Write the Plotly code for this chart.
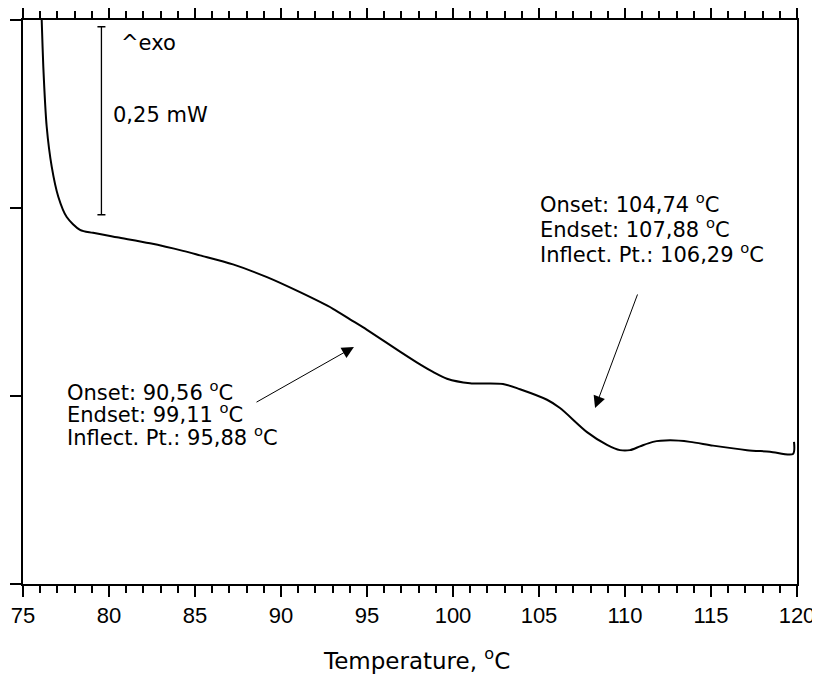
import plotly.graph_objects as go

# ---- data ----
temperature = [76.047, 76.087, 76.180, 76.378, 76.669, 77.052, 77.541, 78.314, 79.070, 80.465,
               82.384, 84.302, 85.291, 87.209, 89.186, 91.105, 93.023, 94.012, 95.000, 96.919,
               98.081, 98.837, 99.651, 100.988, 102.907, 103.895, 105.465, 106.221, 107.791, 108.953,
               109.709, 110.291, 110.872, 111.628, 112.616, 113.779, 115.116, 117.093, 118.430, 119.767,
               119.826]
heat_flow = [0.770, 0.750, 0.688, 0.608, 0.555, 0.515, 0.488, 0.471, 0.467, 0.461,
             0.453, 0.443, 0.437, 0.425, 0.408, 0.388, 0.366, 0.352, 0.338, 0.309,
             0.292, 0.282, 0.273, 0.267, 0.266, 0.259, 0.245, 0.234, 0.202, 0.185,
             0.178, 0.178, 0.183, 0.189, 0.191, 0.189, 0.184, 0.178, 0.176, 0.173,
             0.189]

x_ticks = [75, 80, 85, 90, 95, 100, 105, 110, 115, 120]
x_tick_labels = ["75", "80", "85", "90", "95", "100", "105", "110", "115", "120"]
y_ticks = [0, 0.25, 0.5, 0.75]

# scale bar (0,25 mW)
scale_x = 79.56
scale_center = 0.616
scale_mw = 0.25

# annotation texts
left_lines = ["Onset: 90,56 <sup>o</sup>C", "Endset: 99,11 <sup>o</sup>C", "Inflect. Pt.: 95,88 <sup>o</sup>C"]
left_x = 77.44
left_y = [0.2566, 0.2274, 0.1968]
right_lines = ["Onset: 104,74 <sup>o</sup>C", "Endset: 107,88 <sup>o</sup>C", "Inflect. Pt.: 106,29 <sup>o</sup>C"]
right_x = 104.94
right_y = [0.5066, 0.4734, 0.4402]

# arrows: (tail_x, tail_y, tip_x, tip_y)
arrow1 = (88.49, 0.2407, 94.24, 0.3152)
arrow2 = (110.76, 0.387, 108.26, 0.234)

FONT_TXT = "DejaVu Sans"
FONT_TICK = "Liberation Sans, Arial, sans-serif"
TXT_SIZE = 21

fig = go.Figure()
fig.add_trace(go.Scatter(x=temperature, y=heat_flow, mode="lines",
                         line=dict(color="black", width=2, shape="spline", smoothing=0.8),
                         hoverinfo="skip", showlegend=False))
fig.add_trace(go.Scatter(x=[scale_x], y=[scale_center], mode="markers",
                         marker=dict(size=1, color="rgba(0,0,0,0)"),
                         error_y=dict(type="data", array=[scale_mw / 2], symmetric=True,
                                      width=4, thickness=1.3, color="black"),
                         hoverinfo="skip", showlegend=False))
# invisible trace for top axis
fig.add_trace(go.Scatter(x=[75, 120], y=[None, None], xaxis="x2", mode="lines",
                         showlegend=False, hoverinfo="skip"))

ann = []
for t, y in zip(left_lines, left_y):
    ann.append(dict(x=left_x, y=y, xref="x", yref="y", text=t, showarrow=False,
                    xanchor="left", yanchor="middle", font=dict(family=FONT_TXT, size=TXT_SIZE, color="black")))
for t, y in zip(right_lines, right_y):
    ann.append(dict(x=right_x, y=y, xref="x", yref="y", text=t, showarrow=False,
                    xanchor="left", yanchor="middle", font=dict(family=FONT_TXT, size=TXT_SIZE, color="black")))
ann.append(dict(x=80.58, y=0.719, xref="x", yref="y", text="^exo", showarrow=False,
                xanchor="left", yanchor="middle", font=dict(family=FONT_TXT, size=TXT_SIZE, color="black")))
ann.append(dict(x=80.12, y=0.6237, xref="x", yref="y", text="0,25 mW", showarrow=False,
                xanchor="left", yanchor="middle", font=dict(family=FONT_TXT, size=TXT_SIZE, color="black")))
for a in (arrow1, arrow2):
    ann.append(dict(x=a[2], y=a[3], ax=a[0], ay=a[1], xref="x", yref="y", axref="x", ayref="y",
                    text="", showarrow=True, arrowhead=2, arrowsize=2.4, arrowwidth=1, arrowcolor="black"))
ann.append(dict(x=0.509, y=-0.133, xref="paper", yref="paper", text="Temperature, <sup>o</sup>C",
                showarrow=False, xanchor="center", yanchor="middle",
                font=dict(family=FONT_TXT, size=23, color="black")))

# the page body adds an 8px offset, so the figure is 812x667 placed at (8, 8)
fig.update_layout(
    width=812, height=667,
    margin=dict(l=15, r=23, t=12, b=91, autoexpand=False),
    paper_bgcolor="white", plot_bgcolor="white",
    showlegend=False,
    annotations=ann,
    xaxis=dict(range=[75, 120], tickvals=x_ticks, ticktext=x_tick_labels, automargin=False,
               ticks="outside", ticklen=11, tickwidth=1.5, tickcolor="black",
               minor=dict(dtick=1, tick0=75, ticks="outside", ticklen=7, tickwidth=1.5, tickcolor="black"),
               showline=True, linecolor="black", linewidth=2, showgrid=False, zeroline=False,
               tickfont=dict(family=FONT_TICK, size=22, color="black")),
    xaxis2=dict(range=[75, 120], overlaying="x", side="top", tickvals=x_ticks, automargin=False,
                ticks="outside", ticklen=13, tickwidth=1.5, tickcolor="black",
                minor=dict(dtick=1, tick0=75, ticks="outside", ticklen=7, tickwidth=1.5, tickcolor="black"),
                showticklabels=False, showline=True, linecolor="black", linewidth=2,
                showgrid=False, zeroline=False),
    yaxis=dict(range=[0, 0.75], tickvals=y_ticks, ticks="outside", ticklen=11, tickwidth=1.5,
               tickcolor="black", showticklabels=False, showline=True, mirror=True, automargin=False,
               linecolor="black", linewidth=2, showgrid=False, zeroline=False),
)

fig.write_html("out.html")
